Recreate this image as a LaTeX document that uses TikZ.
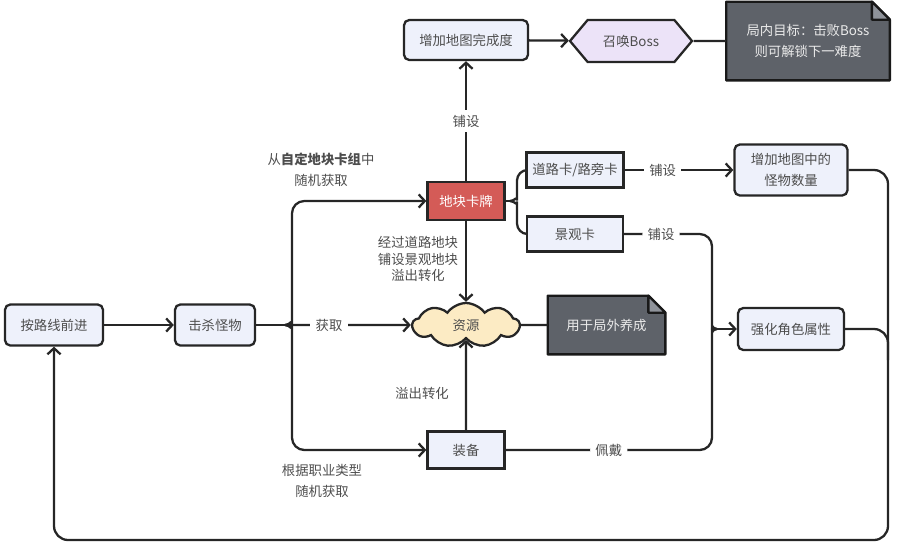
\documentclass[tikz,border=0pt]{standalone}
\usepackage{fontspec}
\setmainfont{Noto Sans CJK SC}
\usetikzlibrary{arrows.meta,shapes.geometric,shapes.symbols}
\pgfdeclarelayer{nodelayer}
\pgfdeclarelayer{edgelayer}
\pgfsetlayers{edgelayer,nodelayer,main}
\definecolor{boxblue}{HTML}{EEF1FB}
\definecolor{cardred}{HTML}{D45B57}
\definecolor{cloudyellow}{HTML}{FCEBC4}
\definecolor{bosslilac}{HTML}{ECE3F8}
\definecolor{notegray}{HTML}{5E6269}
\definecolor{foldgray}{HTML}{8F939A}
\definecolor{textgray}{HTML}{4D4D4D}
\tikzstyle{blue box}=[fill=boxblue, draw=black!85, line width=1.3pt, shape=rectangle, rounded corners=3pt, text=textgray, align=center, minimum height=0.82cm]
\tikzstyle{flat box}=[fill=boxblue, draw=black!85, line width=1.3pt, shape=rectangle, text=textgray, minimum height=0.72cm]
\tikzstyle{red box}=[fill=cardred, draw=black!85, line width=1.3pt, shape=rectangle, text=white, minimum width=1.54cm, minimum height=0.76cm]
\tikzstyle{cloud box}=[fill=cloudyellow, draw=black!85, line width=1.3pt, shape=cloud, cloud puffs=9, cloud puff arc=110, cloud ignores aspect, text=textgray, minimum width=2.14cm, minimum height=0.88cm]
\tikzstyle{boss box}=[fill=bosslilac, draw=black!85, line width=1.3pt, shape=signal, signal to=west and east, signal pointer angle=100, text=textgray, minimum width=2.44cm, minimum height=0.84cm]
\tikzstyle{dark note}=[draw=none, fill=none, text=white!92!black, align=center]
\tikzstyle{note body}=[fill=notegray, draw=black!90, line width=1.3pt, line join=round]
\tikzstyle{note fold}=[fill=foldgray, draw=black!90, line width=1.3pt, line join=round]
\tikzstyle{edge label}=[fill=white, text=textgray, inner sep=3pt]
\tikzstyle{none}=[fill=none, draw=none, text=textgray, align=center]
\tikzstyle{new edge style 0}=[draw=black!85, line width=1.3pt, -{Straight Barb[length=3.5pt,width=7.5pt]}]
\tikzstyle{new edge style 1}=[draw=black!85, line width=1.3pt]

\begin{document}
\begin{tikzpicture}[font=\fontsize{7.6}{12}\selectfont]
	\useasboundingbox (0, 0) rectangle (17.98, -11.16);
	\begin{pgfonlayer}{nodelayer}
		\node [style=blue box, minimum width=1.96cm] (0) at (1.08, -6.5) {按路线前进};
		\node [style=blue box, minimum width=1.6cm] (1) at (4.3, -6.5) {击杀怪物};
		\node [style=cloud box] (2) at (9.32, -6.5) {资源};
		\node [style=dark note, minimum width=2.34cm, minimum height=1.16cm] (3) at (12.13, -6.5) {用于局外养成};
		\node [style=red box] (4) at (9.32, -4.02) {地块卡牌};
		\node [style=blue box, minimum width=2.48cm, minimum height=0.8cm] (5) at (9.32, -0.8) {增加地图完成度};
		\node [style=boss box] (6) at (12.62, -0.82) {召唤Boss};
		\node [style=dark note, minimum width=3.26cm, minimum height=1.56cm] (7) at (16.16, -0.82) {局内目标：击败Boss\\则可解锁下一难度};
		\node [style=flat box, minimum width=1.92cm, minimum height=0.7cm] (8) at (11.5, -3.4) {道路卡/路旁卡};
		\node [style=flat box, minimum width=1.92cm, minimum height=0.7cm] (9) at (11.5, -4.68) {景观卡};
		\node [style=blue box, minimum width=2.26cm, minimum height=1.02cm] (10) at (15.82, -3.4) {增加地图中的\\怪物数量};
		\node [style=blue box, minimum width=2.12cm, minimum height=0.84cm] (11) at (15.82, -6.58) {强化角色属性};
		\node [style=flat box, minimum width=1.54cm, minimum height=0.74cm] (12) at (9.32, -9.0) {装备};
		\node [style=none] (13) at (6.42, -3.4) {从\textbf{自定地块卡组}中\\随机获取};
		\node [style=none, font=\fontsize{7.6}{9.6}\selectfont] (14) at (8.36, -5.18) {经过道路地块\\铺设景观地块\\溢出转化};
		\node [style=none] (15) at (8.44, -7.86) {溢出转化};
		\node [style=none] (16) at (6.44, -9.62) {根据职业类型\\随机获取};
		\coordinate (17) at (5.7, -6.5);
		\coordinate (18) at (10.2, -4.02);
		\coordinate (19) at (14.34, -6.58);
	\end{pgfonlayer}
	\begin{pgfonlayer}{edgelayer}
		\draw [style=note body] (3.south west) -- (3.north west) -- ([xshift=-0.34cm]3.north east) -- ([yshift=-0.34cm]3.north east) -- (3.south east) -- cycle;
		\draw [style=note fold] ([xshift=-0.34cm]3.north east) -- ([xshift=-0.34cm, yshift=-0.34cm]3.north east) -- ([yshift=-0.34cm]3.north east) -- cycle;
		\draw [style=note body] (7.south west) -- (7.north west) -- ([xshift=-0.36cm]7.north east) -- ([yshift=-0.36cm]7.north east) -- (7.south east) -- cycle;
		\draw [style=note fold] ([xshift=-0.36cm]7.north east) -- ([xshift=-0.36cm, yshift=-0.36cm]7.north east) -- ([yshift=-0.36cm]7.north east) -- cycle;
		\draw [style=new edge style 0] (0) to (1);
		\draw [style=new edge style 1] (1) to (17);
		\draw [style=new edge style 0] (17) to node [style=edge label, pos=0.35] {获取} (2);
		\draw [style=new edge style 0, rounded corners=7pt] (17) to [out=0, in=-90] ++(0.14, 0.25) |- (4);
		\draw [style=new edge style 0, rounded corners=7pt] (17) to [out=0, in=90] ++(0.14, -0.25) |- (12);
		\draw [style=new edge style 0] (4) to (2);
		\draw [style=new edge style 0] (12) to (2);
		\draw [style=new edge style 0] (4) to node [style=edge label] {铺设} (5);
		\draw [style=new edge style 0] (5) to (6);
		\draw [style=new edge style 1] (6) to (7);
		\draw [style=new edge style 1] (2) to (3);
		\draw [style=new edge style 1] (4) to (18);
		\draw [style=new edge style 1, rounded corners=6pt] (18) to [out=0, in=-90] ++(0.14, 0.22) |- (8);
		\draw [style=new edge style 1, rounded corners=6pt] (18) to [out=0, in=90] ++(0.14, -0.22) |- (9);
		\draw [style=new edge style 0] (8) to node [style=edge label, pos=0.35] {铺设} (10);
		\draw [style=new edge style 1, rounded corners=7pt] (9) -- node [style=edge label, pos=0.42] {铺设} (14.24, -4.68) -- (14.24, -6.34) to [out=-90, in=180] (19);
		\draw [style=new edge style 1, rounded corners=7pt] (12) -- node [style=edge label, pos=0.5] {佩戴} (14.24, -9.0) -- (14.24, -6.82) to [out=90, in=180] (19);
		\draw [style=new edge style 0] (19) to (11);
		\draw [style=new edge style 0, rounded corners=8pt] (10) -- (17.76, -3.4) -- (17.76, -10.8) -| (0);
		\draw [style=new edge style 1, rounded corners=8pt] (11) -- (17.76, -6.58) -- (17.76, -7.2);
	\end{pgfonlayer}
\end{tikzpicture}
\end{document}
